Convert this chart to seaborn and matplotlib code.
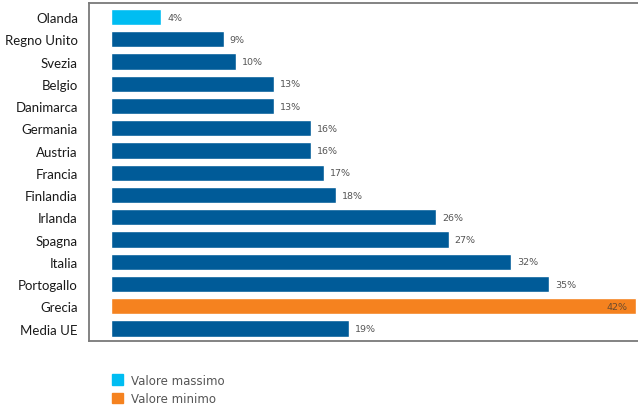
import matplotlib
matplotlib.use("Agg")
import matplotlib.pyplot as plt
import matplotlib.patches as mpatches
import seaborn as sns
import pandas as pd

paesi = ["Olanda", "Regno Unito", "Svezia", "Belgio", "Danimarca", "Germania",
         "Austria", "Francia", "Finlandia", "Irlanda", "Spagna", "Italia",
         "Portogallo", "Grecia", "Media UE"]
valori = [4, 9, 10, 13, 13, 16, 16, 17, 18, 26, 27, 32, 35, 42, 19]

BLU = "#005b98"
CIANO = "#00bdf2"
ARANCIO = "#f5821f"
colori = {p: BLU for p in paesi}
colori["Olanda"] = CIANO
colori["Grecia"] = ARANCIO

df = pd.DataFrame({"paese": paesi, "valore": valori})

sns.set_theme(style="white")
plt.rcParams["font.family"] = ["Lato", "DejaVu Sans"]

fig = plt.figure(figsize=(6.38, 4.10), dpi=100)
ax = fig.add_axes([89 / 638, 68 / 410, 549 / 638, 338 / 410])

sns.barplot(data=df, x="valore", y="paese", hue="paese", palette=colori,
            legend=False, orient="h", width=0.73, saturation=1, ax=ax)

ax.set_xlim(-1.76, 42.16)
ax.set_ylim(14.56, -0.63)
ax.set_xlabel("")
ax.set_ylabel("")
ax.set_xticks([])
ax.tick_params(axis="y", length=0, pad=8, labelsize=9.5, labelcolor="#1a1a1a")

for side in ["left", "top", "bottom"]:
    ax.spines[side].set_visible(True)
    ax.spines[side].set_color("#7a7a7a")
    ax.spines[side].set_linewidth(1.3)
ax.spines["right"].set_visible(False)

for i, v in enumerate(valori):
    testo = f"{v}%"
    if paesi[i] == "Grecia":
        ax.text(v - 0.7, i, testo, ha="right", va="center", fontsize=6.8,
                color="#6a4a2e", family="DejaVu Sans")
    else:
        ax.text(v + 0.5, i, testo, ha="left", va="center", fontsize=6.8,
                color="#555555", family="DejaVu Sans")

maniglie = [mpatches.Patch(color=CIANO, label="Valore massimo"),
            mpatches.Patch(color=ARANCIO, label="Valore minimo")]
fig.legend(handles=maniglie, loc="upper left",
           bbox_to_anchor=(101 / 638, 1 - 364 / 410), frameon=False,
           handlelength=0.95, handleheight=0.95, handletextpad=0.65,
           labelspacing=0.45,
           prop={"family": "DejaVu Sans", "size": 8.5}, labelcolor="#555555")

fig.savefig("out.png", dpi=100)
